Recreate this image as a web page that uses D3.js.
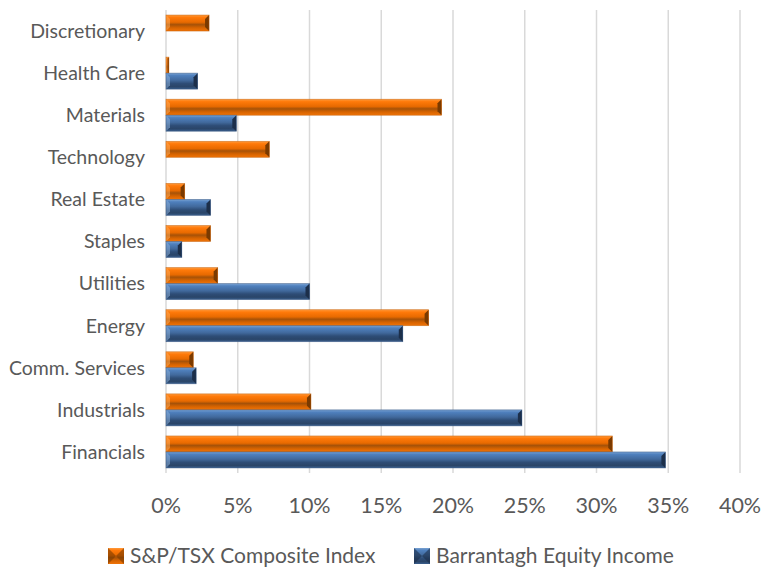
<!DOCTYPE html>
<html>
<head>
<meta charset="utf-8">
<script src="https://cdn.jsdelivr.net/npm/d3@7"></script>
<style>
  body { margin: 0; background: #fff; }
  text { font-family: Lato, "Open Sans", sans-serif; fill: #595959; }
</style>
</head>
<body>
<svg id="chart" width="765" height="570"></svg>
<script>
var categories = ["Discretionary", "Health Care", "Materials", "Technology", "Real Estate",
  "Staples", "Utilities", "Energy", "Comm. Services", "Industrials", "Financials"];
var tsxValues = [3.0, 0.2, 19.2, 7.2, 1.3, 3.1, 3.6, 18.3, 1.9, 10.1, 31.1];
var fundValues = [0, 2.2, 4.9, 0, 3.1, 1.1, 10.0, 16.5, 2.1, 24.8, 34.8];
var seriesNames = ["S&P/TSX Composite Index", "Barrantagh Equity Income"];
var xTicks = [0, 5, 10, 15, 20, 25, 30, 35, 40];

const margin = { top: 10, right: 25, bottom: 97, left: 166 };
const width = 765 - margin.left - margin.right;
const height = 570 - margin.top - margin.bottom;

var svg = d3.select("#chart");
var defs = svg.append("defs");

function addGradient(id, stops) {
  var g = defs.append("linearGradient")
    .attr("id", id)
    .attr("x1", 0).attr("y1", 0).attr("x2", 0).attr("y2", 1);
  stops.forEach(function (s) {
    g.append("stop").attr("offset", s[0]).attr("stop-color", s[1]);
  });
}
addGradient("gradOrange", [[0, "#ff9a3c"], [0.15, "#ff7a0a"], [0.45, "#e86a00"], [0.6, "#a65208"], [0.8, "#d86400"], [1, "#f07408"]]);
addGradient("gradBlue", [[0, "#7aa3d3"], [0.15, "#4f80bd"], [0.45, "#41699c"], [0.65, "#2e4d76"], [0.85, "#2a4568"], [1, "#3a5f8e"]]);

var x = d3.scaleLinear().domain([0, 40]).range([0, width]);
var y0 = d3.scaleBand().domain(categories).range([0, height]).paddingInner(0.24).paddingOuter(0.12);
var y1 = d3.scaleBand().domain([0, 1]).range([0, y0.bandwidth()]);

var g = svg.append("g").attr("transform", "translate(" + margin.left + "," + margin.top + ")");

// gridlines
g.selectAll(".grid")
  .data(xTicks)
  .enter().append("line")
  .attr("x1", function (d) { return x(d); })
  .attr("x2", function (d) { return x(d); })
  .attr("y1", 0)
  .attr("y2", height)
  .attr("stroke", "#d9d9d9")
  .attr("stroke-width", 1.5);

var rows = categories.map(function (c, i) {
  return { cat: c, vals: [tsxValues[i], fundValues[i]] };
});

var colors = [
  { fill: "url(#gradOrange)", dark: "#7a3a00", light: "#ffb060" },
  { fill: "url(#gradBlue)", dark: "#1c2f4a", light: "#8fb3de" }
];

var group = g.selectAll(".row")
  .data(rows)
  .enter().append("g")
  .attr("transform", function (d) { return "translate(0," + y0(d.cat) + ")"; });

group.each(function (d) {
  var sel = d3.select(this);
  d.vals.forEach(function (v, s) {
    if (v <= 0) return;
    var w = x(v) - x(0);
    var h = y1.bandwidth();
    var top = y1(s);
    var bev = Math.min(4, w / 2);
    sel.append("rect")
      .attr("x", x(0))
      .attr("y", top)
      .attr("width", w)
      .attr("height", h)
      .attr("fill", colors[s].fill);
    // right bevel (dark end)
    sel.append("path")
      .attr("d", "M" + (x(0) + w - bev) + "," + (top + bev) +
        " L" + (x(0) + w) + "," + top +
        " L" + (x(0) + w) + "," + (top + h) +
        " L" + (x(0) + w - bev) + "," + (top + h - bev) + "Z")
      .attr("fill", colors[s].dark);
    // left bevel (light end)
    sel.append("path")
      .attr("d", "M" + x(0) + "," + top +
        " L" + (x(0) + bev) + "," + (top + bev) +
        " L" + (x(0) + bev) + "," + (top + h - bev) +
        " L" + x(0) + "," + (top + h) + "Z")
      .attr("fill", colors[s].light)
      .attr("opacity", 0.5);
    sel.append("rect")
      .attr("x", x(0))
      .attr("y", top)
      .attr("width", w)
      .attr("height", h)
      .attr("fill", "none")
      .attr("stroke", s == 0 ? "#c05a00" : "#2f4f7a")
      .attr("stroke-opacity", 0.6)
      .attr("stroke-width", 0.75);
  });
});

// y labels
g.selectAll(".ylab")
  .data(categories)
  .enter().append("text")
  .attr("x", -21)
  .attr("y", function (d) { return y0(d) + y0.bandwidth() / 2; })
  .attr("dy", "0.35em")
  .attr("text-anchor", "end")
  .style("font-size", "19.5px")
  .text(function (d) { return d; });

// x labels
g.selectAll(".xlab")
  .data(xTicks)
  .enter().append("text")
  .attr("x", function (d) { return x(d); })
  .attr("y", height + 32)
  .attr("dy", "0.35em")
  .attr("text-anchor", "middle")
  .style("font-size", "21.5px")
  .text(function (d) { return d + "%"; });

// legend
var legendX = [108, 414];
var legend = svg.selectAll(".legend")
  .data(seriesNames)
  .enter().append("g")
  .attr("transform", function (d, i) { return "translate(" + legendX[i] + ",548)"; });

legend.append("rect")
  .attr("width", 16)
  .attr("height", 16)
  .attr("fill", function (d, i) { return colors[i].fill; });
legend.append("path")
  .attr("d", "M0,0 L8,8 L0,16Z M16,0 L8,8 L16,16Z")
  .attr("fill", function (d, i) { return colors[i].dark; })
  .attr("opacity", 0.6);
legend.append("text")
  .attr("x", 22)
  .attr("y", 8)
  .attr("dy", "0.35em")
  .style("font-size", "21px")
  .text(function (d) { return d; });
</script>
</body>
</html>
